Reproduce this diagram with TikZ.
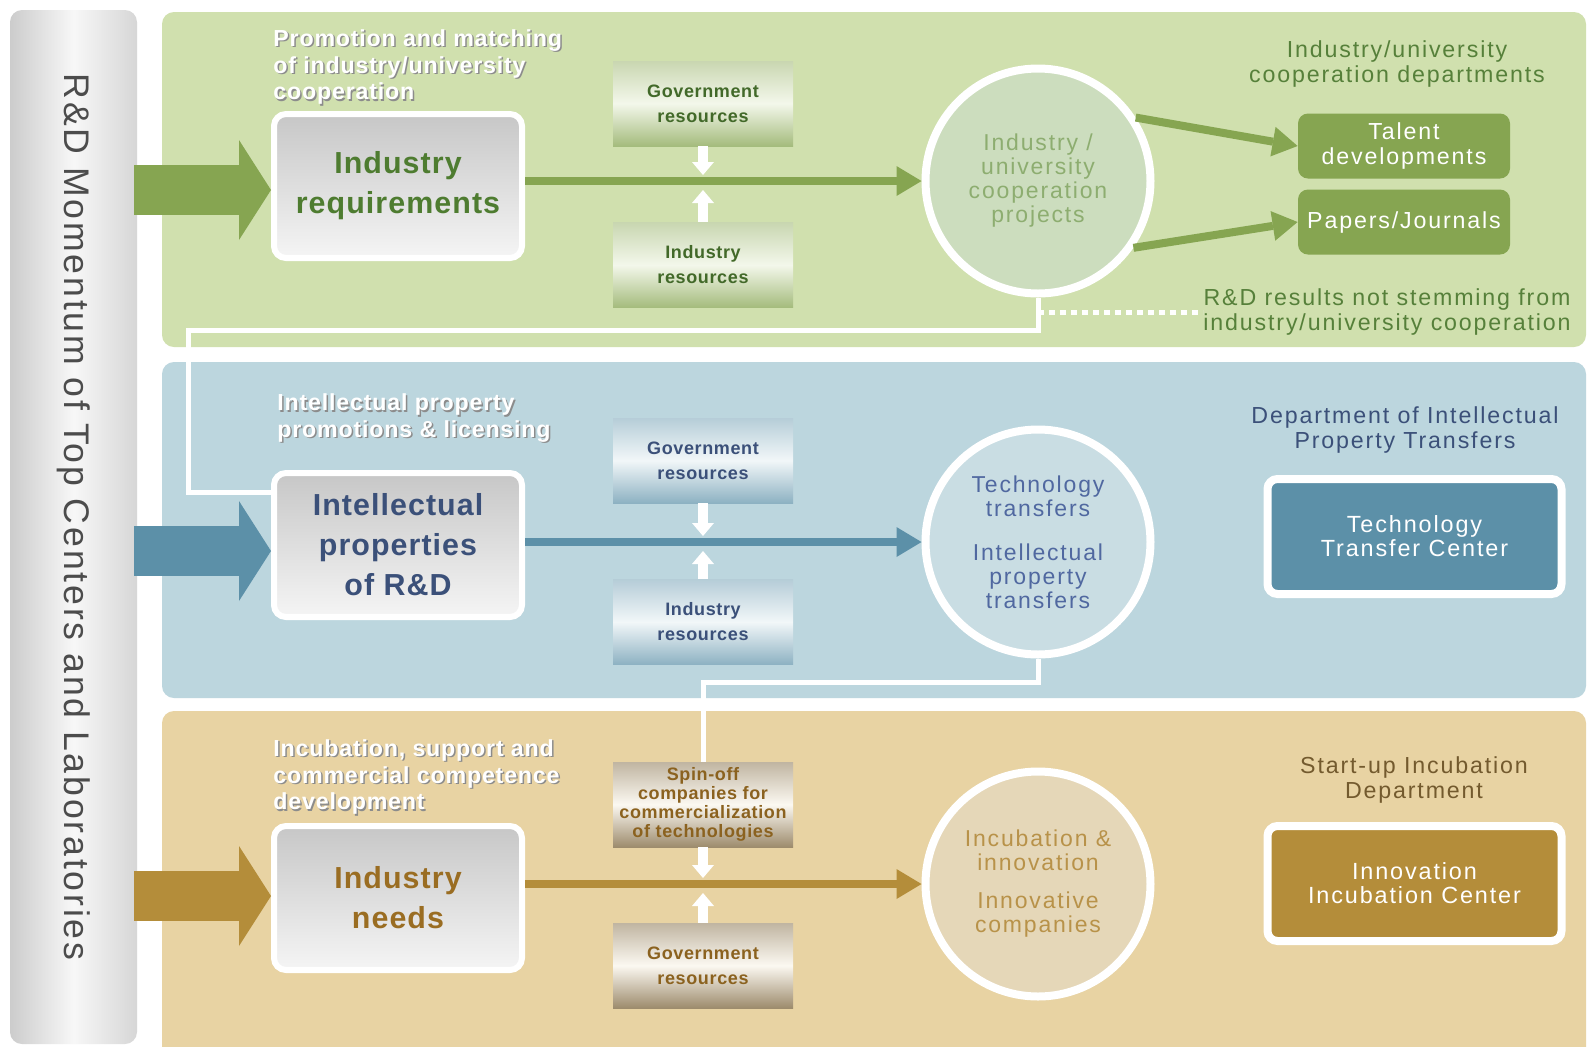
\documentclass[tikz,border=0pt]{standalone}
\usepackage{fontspec}
\setmainfont{Liberation Sans}[LetterSpace=8]
\usetikzlibrary{arrows.meta,calc}

\definecolor{grnpanel}{HTML}{D0E0AE}
\definecolor{grndark}{HTML}{86A551}
\definecolor{grntext}{HTML}{4E7C30}
\definecolor{grndept}{HTML}{56803A}
\definecolor{grncirc}{HTML}{CCDDBE}
\definecolor{grncirctext}{HTML}{8DAD70}
\definecolor{bluepanel}{HTML}{BCD6DE}
\definecolor{bluedark}{HTML}{5C90A8}
\definecolor{bluetext}{HTML}{3B5079}
\definecolor{bluecirc}{HTML}{C9DDE3}
\definecolor{bluecirctext}{HTML}{5068A0}
\definecolor{tanpanel}{HTML}{E8D3A3}
\definecolor{tandark}{HTML}{B48D3A}
\definecolor{tantext}{HTML}{9A6D22}
\definecolor{tandept}{HTML}{735A2E}
\definecolor{tancirc}{HTML}{E5D7B8}
\definecolor{tancirctext}{HTML}{B89249}

\newcommand{\heavy}{\bfseries\addfontfeature{LetterSpace=3.5}}

\tikzset{
  band/.style={rounded corners=6pt},
  sidebar/.style={rotate=-90, minimum width=517pt, minimum height=63.5pt, rounded corners=6pt,
    left color=black!20, right color=black!16, middle color=black!3, text=black!70,
    font=\fontsize{17.8}{20}\selectfont},
  bigbox/.style={draw=white, line width=3pt, rounded corners=6pt, top color=black!22, bottom color=black!4,
    minimum width=124pt, minimum height=72pt, align=center, inner sep=0pt,
    font=\fontsize{15.2}{20}\selectfont\heavy},
  resbox/.style={minimum width=90pt, minimum height=42.5pt, align=center, inner sep=0pt,
    font=\fontsize{9}{12.5}\selectfont\heavy},
  grnres/.style={top color=grndark!45, bottom color=grndark!75, middle color=grnpanel!25, text=grntext!85!black},
  blueres/.style={top color=bluedark!45, bottom color=bluedark!70, middle color=bluepanel!20, text=bluetext},
  tanres/.style={top color=tandept!45, bottom color=tandept!70, middle color=tanpanel!15, text=tantext!90!black},
  hubnode/.style={circle, draw=white, line width=4pt, minimum size=112.5pt, align=center, inner sep=0pt,
    font=\fontsize{11.5}{12}\selectfont},
  deptlabel/.style={align=center, inner sep=0pt, font=\fontsize{11.6}{12.5}\selectfont},
  outbox/.style={fill=grndark, rounded corners=5pt, minimum width=106pt, minimum height=32.5pt,
    align=center, inner sep=0pt, text=white, font=\fontsize{11.6}{12.5}\selectfont},
  unitbox/.style={draw=white, line width=4pt, rounded corners=5pt, minimum width=147pt, minimum height=57.5pt,
    align=center, inner sep=0pt, text=white, font=\fontsize{11.7}{12}\selectfont},
  notetext/.style={text=white, align=left, inner sep=0pt, font=\fontsize{11.6}{13.3}\selectfont\heavy},
  flowarrow/.style={line width=4pt, -{Triangle[length=12.5pt,width=15pt,line width=0pt]}},
  feedarrow/.style={draw=white, line width=5pt, -{Triangle[length=6.5pt,width=11pt,line width=0pt]}},
  pusharrow/.style={line width=25pt, -{Triangle[length=16pt,width=50pt,line width=0pt]}},
  linkline/.style={draw=white, line width=2.5pt},
  dotline/.style={draw=white, line width=2.5pt, dash pattern=on 3pt off 2.5pt}
}

% white text with a grey drop shadow
\newcommand{\shadownote}[3]{%
  \node[notetext, text=black!45, anchor=west] at ($(#2)+(1.5,1.5)$) {#3};
  \node[notetext, anchor=west] (#1) at (#2) {#3};}

\begin{document}
\begin{tikzpicture}[x=0.5pt, y=-0.5pt]
\path[use as bounding box, fill=white] (0,0) rectangle (1587,1046);
% the three bands
\fill[band, grnpanel] (162,12) rectangle (1586,347);
\fill[band, bluepanel] (162,362) rectangle (1586,698);
\fill[band, tanpanel] (162,711) rectangle (1586,1060);

\node[sidebar] (bar) at (73.5,527) {R\&D Momentum of Top Centers and Laboratories\hspace*{10pt}};

% industry/university cooperation
\shadownote{promo}{273,67}{Promotion and matching\\of industry/university\\cooperation}
\node[bigbox, text=grntext] (req) at (398,186) {Industry\\requirements};
\node[resbox, grnres] (gov1) at (703,103.5) {Government\\resources};
\node[resbox, grnres] (ind1) at (703,265) {Industry\\resources};
\node[hubnode, fill=grncirc, text=grncirctext] (hub1) at (1038,181) {Industry /\\university\\cooperation\\projects};
\node[deptlabel, text=grndept] (dept1) at (1397,64) {Industry/university\\cooperation departments};
\node[outbox] (talent) at (1404,146) {Talent\\developments};
\node[outbox] (papers) at (1404,222) {Papers/Journals};
\node[deptlabel, text=grndept] (rdnote) at (1387,312) {R\&D results not stemming from\\industry/university cooperation};

\coordinate (in1) at (134,190);
\draw[pusharrow, grndark] (in1) -- (req.west |- in1);
\draw[flowarrow, grndark] (req.east |- hub1) -- (hub1.west);
\draw[feedarrow] (gov1.south) -- ($(gov1.south |- hub1)+(0,-6)$);
\draw[feedarrow] (ind1.north) -- ($(ind1.north |- hub1)+(0,9)$);
\draw[flowarrow, grndark] (hub1.33) -- (talent.west);
\draw[flowarrow, grndark] (hub1.-35) -- (papers.west);

% intellectual property
\shadownote{iplic}{277,418}{Intellectual property\\promotions \& licensing}
\node[bigbox, text=bluetext] (ipr) at (398,545) {Intellectual\\properties\\of R\&D};
\node[resbox, blueres] (gov2) at (703,460.5) {Government\\resources};
\node[resbox, blueres] (ind2) at (703,622) {Industry\\resources};
\node[hubnode, fill=bluecirc, text=bluecirctext] (hub2) at (1038,542) {Technology\\transfers\\[10pt]Intellectual\\property\\transfers};
\node[deptlabel, text=bluetext] (dept2) at (1405,430) {Department of Intellectual\\Property Transfers};
\node[unitbox, fill=bluedark] (ttc) at (1414.5,536.5) {Technology\\Transfer Center};

\coordinate (in2) at (134,551);
\draw[pusharrow, bluedark] (in2) -- (ipr.west |- in2);
\draw[flowarrow, bluedark] (ipr.east |- hub2) -- (hub2.west);
\draw[feedarrow] (gov2.south) -- ($(gov2.south |- hub2)+(0,-6)$);
\draw[feedarrow] (ind2.north) -- ($(ind2.north |- hub2)+(0,9)$);

% start-ups
\shadownote{incub}{273,777}{Incubation, support and\\commercial competence\\development}
\node[bigbox, text=tantext] (needs) at (398,898) {Industry\\needs};
\node[resbox, tanres, font=\fontsize{9}{9.6}\selectfont\heavy] (spin) at (703,804.5) {Spin-off\\companies for\\commercialization\\of technologies};
\node[resbox, tanres] (gov3) at (703,965.5) {Government\\resources};
\node[hubnode, fill=tancirc, text=tancirctext] (hub3) at (1038,884) {Incubation \&\\innovation\\[7pt]Innovative\\companies};
\node[deptlabel, text=tandept] (dept3) at (1414,780) {Start-up Incubation\\Department};
\node[unitbox, fill=tandark] (tiic) at (1414.5,883.5) {Innovation\\Incubation Center};

\coordinate (in3) at (134,896);
\draw[pusharrow, tandark] (in3) -- (needs.west |- in3);
\draw[flowarrow, tandark] (needs.east |- hub3) -- (hub3.west);
\draw[feedarrow] (spin.south) -- ($(spin.south |- hub3)+(0,-6)$);
\draw[feedarrow] (gov3.north) -- ($(gov3.north |- hub3)+(0,9)$);

% links between the bands
\coordinate (k1) at ($(hub1.south)+(0,15)$);
\coordinate (k2) at (188,330);
\draw[linkline] (hub1.south) |- (k2) |- ($(ipr.west)+(0,-53)$);
\draw[dotline] (k1) -- (rdnote.west |- k1);
\coordinate (k3) at (703,682);
\draw[linkline] (hub2.south) |- (k3) -- (spin.north);
\end{tikzpicture}
\end{document}
